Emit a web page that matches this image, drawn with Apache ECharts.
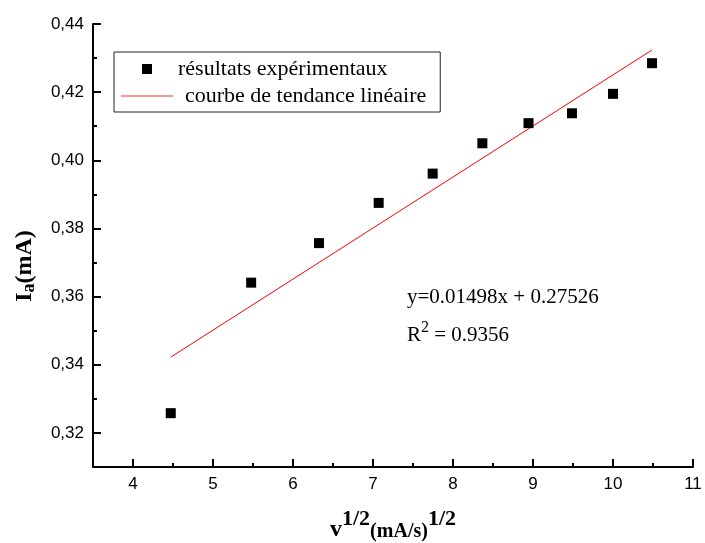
<!DOCTYPE html>
<html>
<head>
<meta charset="utf-8">
<script src="https://cdn.jsdelivr.net/npm/echarts@6/dist/echarts.min.js"></script>
<style>
  html, body { margin: 0; padding: 0; background: #fff; }
  #chart { width: 705px; height: 543px; }
</style>
</head>
<body>
<div id="chart"></div>
<script>
// Square root of the scan rate, (mA/s)^1/2
const sqrtScanRate = [4.472, 5.477, 6.325, 7.071, 7.746, 8.367, 8.944, 9.487, 10.0, 10.488];
// Anodic peak current, mA
const peakCurrent = [0.3258, 0.3641, 0.3757, 0.3875, 0.3961, 0.4050, 0.4109, 0.4138, 0.4195, 0.4285];

// Linear trend line coefficients
const slope = 0.01498;
const intercept = 0.27526;
const rSquared = '0.9356';

// Axis ranges and ticks
const xRange = [3.5, 11];
const yRange = [0.31, 0.44];
const xMajorTicks = [4, 5, 6, 7, 8, 9, 10, 11];
const xMinorTicks = [4.5, 5.5, 6.5, 7.5, 8.5, 9.5, 10.5];
const yMajorTicks = [0.32, 0.34, 0.36, 0.38, 0.40, 0.42, 0.44];
const yMinorTicks = [0.33, 0.35, 0.37, 0.39, 0.41, 0.43];

const seriesNames = ['résultats expérimentaux', 'courbe de tendance linéaire'];

const points = sqrtScanRate.map((x, i) => [x, peakCurrent[i]]);
const xFirst = sqrtScanRate[0];
const xLast = sqrtScanRate[sqrtScanRate.length - 1];
const trend = [[xFirst, slope * xFirst + intercept], [xLast, slope * xLast + intercept]];

const serif = 'Liberation Serif, Times New Roman, serif';
const sans = 'Liberation Sans, Arial, sans-serif';

function majorAxis(range, ticks, fmt, pos) {
  return {
    type: 'value', min: range[0], max: range[1], position: pos,
    axisLine: { show: true, onZero: false, lineStyle: { color: '#000', width: 2 } },
    axisTick: { show: true, inside: true, length: 8, customValues: ticks, lineStyle: { color: '#000', width: 2 } },
    axisLabel: { show: true, customValues: ticks, formatter: fmt, color: '#000',
                 fontFamily: sans, fontSize: 17, margin: 9 },
    splitLine: { show: false }
  };
}
function minorAxis(range, ticks, pos) {
  return {
    type: 'value', min: range[0], max: range[1], position: pos, offset: 0,
    axisLine: { show: false, onZero: false },
    axisTick: { show: true, inside: true, length: 4, customValues: ticks, lineStyle: { color: '#000', width: 2 } },
    axisLabel: { show: false },
    splitLine: { show: false }
  };
}

const chart = echarts.init(document.getElementById('chart'), null, { renderer: 'canvas' });
chart.setOption({
  animation: false,
  backgroundColor: '#fff',
  grid: { left: 93, right: 12, top: 24, bottom: 76, containLabel: false },
  xAxis: [
    majorAxis(xRange, xMajorTicks, v => String(Math.round(v)), 'bottom'),
    minorAxis(xRange, xMinorTicks, 'bottom')
  ],
  yAxis: [
    majorAxis(yRange, yMajorTicks, v => v.toFixed(2).replace('.', ','), 'left'),
    minorAxis(yRange, yMinorTicks, 'left')
  ],
  legend: {
    orient: 'vertical',
    left: 114, top: 52,
    padding: [6, 14, 5, 7],
    itemWidth: 52, itemHeight: 10, itemGap: 5,
    symbolKeepAspect: true,
    borderColor: '#222', borderWidth: 1,
    textStyle: { fontFamily: serif, fontSize: 22, color: '#000' },
    data: [
      { name: seriesNames[0], icon: 'path://M0,0L10,0L10,10L0,10Z' },
      { name: seriesNames[1], icon: 'path://M0,0L52,0L52,1.2L0,1.2Z', textStyle: { padding: [0, 0, 0, 7] } }
    ]
  },
  graphic: [
    {
      type: 'text', x: 25, y: 266, rotation: Math.PI / 2,
      style: {
        text: '{b|I}{s|a}{b|(mA)}',
        align: 'center', verticalAlign: 'middle', fill: '#000',
        rich: {
          b: { fontFamily: serif, fontWeight: 'bold', fontSize: 24, lineHeight: 26, verticalAlign: 'middle' },
          s: { fontFamily: serif, fontWeight: 'bold', fontSize: 18, lineHeight: 18, verticalAlign: 'bottom' }
        }
      }
    },
    {
      type: 'text', x: 393, y: 530,
      style: {
        text: '{v|v}{p|1/2}{u|(mA/s)}{p|1/2}',
        align: 'center', verticalAlign: 'middle', fill: '#000',
        rich: {
          v: { fontFamily: serif, fontWeight: 'bold', fontSize: 24, lineHeight: 44, verticalAlign: 'middle' },
          p: { fontFamily: serif, fontWeight: 'bold', fontSize: 22, lineHeight: 20, verticalAlign: 'top' },
          u: { fontFamily: serif, fontWeight: 'bold', fontSize: 20, lineHeight: 20, verticalAlign: 'middle', padding: [3, 0, 0, 0] }
        }
      }
    },
    {
      type: 'text', x: 407, y: 297,
      style: {
        text: 'y=' + slope + 'x + ' + intercept,
        fontFamily: serif, fontSize: 21, fill: '#000',
        align: 'left', verticalAlign: 'middle'
      }
    },
    {
      type: 'text', x: 407, y: 335,
      style: {
        text: '{r|R}{p|2}{r| = ' + rSquared + '}',
        align: 'left', verticalAlign: 'middle', fill: '#000',
        rich: {
          r: { fontFamily: serif, fontSize: 21, lineHeight: 30, verticalAlign: 'middle' },
          p: { fontFamily: serif, fontSize: 16, lineHeight: 16, verticalAlign: 'top' }
        }
      }
    }
  ],
  series: [
    {
      name: seriesNames[0], type: 'scatter',
      xAxisIndex: 0, yAxisIndex: 0,
      symbol: 'rect', symbolSize: 10,
      itemStyle: { color: '#000', opacity: 1 },
      data: points, z: 3
    },
    {
      name: seriesNames[1], type: 'line',
      xAxisIndex: 0, yAxisIndex: 0,
      symbol: 'none', showSymbol: false,
      lineStyle: { color: '#ff0000', width: 1 },
      itemStyle: { color: '#ff3333' },
      data: trend, z: 2
    }
  ]
});
</script>
</body>
</html>
